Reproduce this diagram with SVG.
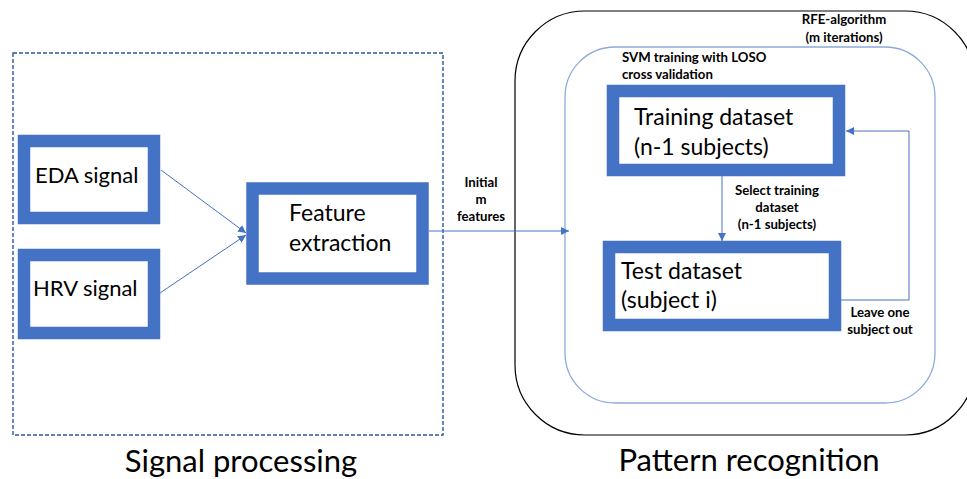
<svg xmlns="http://www.w3.org/2000/svg" width="967" height="479" viewBox="0 0 967 479">
<defs>
<style>
.box{fill:#fff;stroke:#4472C4;stroke-width:12.5}
.big{font-family:Lato,"Liberation Sans",sans-serif;font-size:23px;fill:#000}
.small{font-family:Lato,"Liberation Sans",sans-serif;font-size:13.2px;font-weight:bold;fill:#000}
.title{font-family:Lato,"Liberation Sans",sans-serif;font-size:31px;fill:#000}
.conn{fill:none;stroke:#4472C4;stroke-width:1}
</style>
<marker id="arr" viewBox="0 0 10 10" refX="10" refY="5" markerWidth="8" markerHeight="8" markerUnits="userSpaceOnUse" orient="auto">
<path d="M0,0 L10,5 L0,10 z" fill="#4472C4"/>
</marker>
</defs>
<rect width="967" height="479" fill="#fff"/>
<g id="signal-processing">
<rect x="13" y="53" width="430" height="382" fill="none" stroke="#2F5597" stroke-width="1.4" stroke-dasharray="4,2"/>
<text class="title" x="241" y="472" text-anchor="middle">Signal processing</text>
</g>
<g id="pattern-recognition">
<rect x="515" y="11" width="460" height="424" rx="70" ry="70" fill="none" stroke="#000" stroke-width="1.2"/>
<text class="title" x="749" y="471" text-anchor="middle">Pattern recognition</text>
<text class="small" x="844" y="24" text-anchor="middle">RFE-algorithm</text>
<text class="small" x="844" y="42" text-anchor="middle">(m iterations)</text>
</g>
<g id="svm-loso">
<rect x="565" y="47" width="370" height="356" rx="50" ry="50" fill="none" stroke="#8FAADC" stroke-width="1.3"/>
<text class="small" x="622" y="62">SVM training with LOSO</text>
<text class="small" x="622" y="79">cross validation</text>
</g>
<g id="eda">
<rect class="box" x="24" y="141" width="130" height="77"/>
<text class="big" x="35" y="183" style="font-size:22px">EDA signal</text>
</g>
<g id="hrv">
<rect class="box" x="24" y="255" width="130" height="78"/>
<text class="big" x="33" y="296" style="font-size:22px">HRV signal</text>
</g>
<g id="feature">
<rect class="box" x="252.5" y="188.5" width="170" height="90"/>
<text class="big" x="289" y="221">Feature</text>
<text class="big" x="289" y="251">extraction</text>
</g>
<g id="training">
<rect class="box" x="613" y="91" width="226" height="79"/>
<text class="big" x="634" y="125">Training dataset</text>
<text class="big" x="634" y="155">(n-1 subjects)</text>
</g>
<g id="test">
<rect class="box" x="609" y="247" width="226" height="78"/>
<text class="big" x="621" y="279">Test dataset</text>
<text class="big" x="621" y="308">(subject i)</text>
</g>
<g id="connectors">
<line class="conn" x1="161" y1="170" x2="246" y2="233" marker-end="url(#arr)"/>
<line class="conn" x1="160" y1="293" x2="246" y2="235" marker-end="url(#arr)"/>
<line class="conn" x1="429" y1="231" x2="569" y2="231" marker-end="url(#arr)"/>
<line class="conn" x1="722" y1="176" x2="722" y2="241" marker-end="url(#arr)"/>
<polyline class="conn" points="841,300 909,300 909,131 846,131" marker-end="url(#arr)"/>
<text class="small" x="481" y="187" text-anchor="middle">Initial</text>
<text class="small" x="481" y="204" text-anchor="middle">m</text>
<text class="small" x="481" y="221" text-anchor="middle">features</text>
<text class="small" x="777" y="195" text-anchor="middle">Select training</text>
<text class="small" x="777" y="212" text-anchor="middle">dataset</text>
<text class="small" x="777" y="229" text-anchor="middle">(n-1 subjects)</text>
<text class="small" x="880" y="317" text-anchor="middle">Leave one</text>
<text class="small" x="880" y="334" text-anchor="middle">subject out</text>
</g>
</svg>
